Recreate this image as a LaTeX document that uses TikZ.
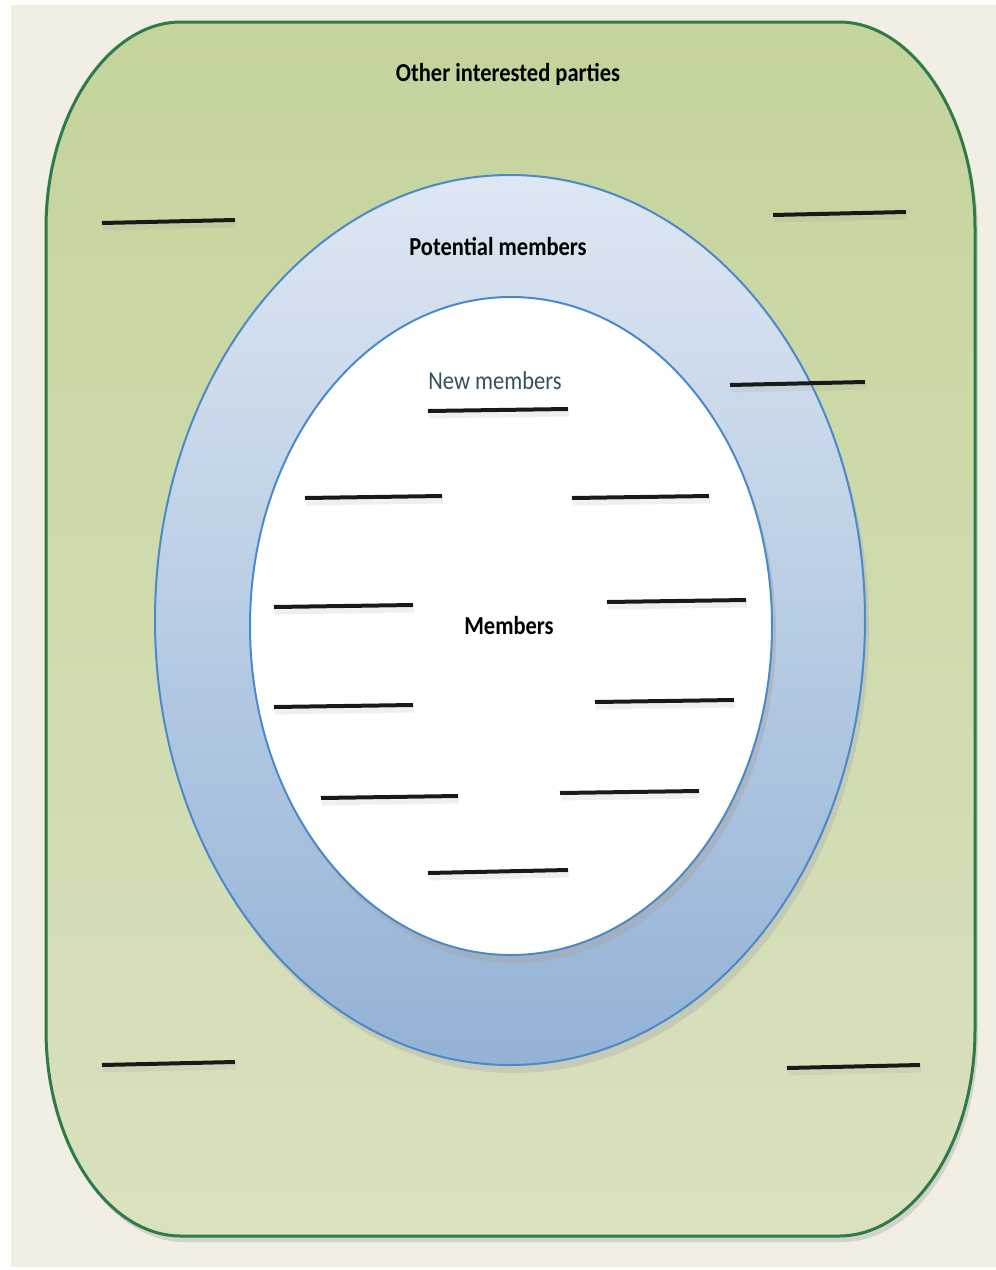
\documentclass[tikz,border=0pt]{standalone}
\usepackage{fontspec}
\setmainfont{Carlito}
\definecolor{beige}{HTML}{F1EEE3}
\definecolor{gtop}{HTML}{C4D49C}
\definecolor{gbot}{HTML}{DAE1BF}
\definecolor{gline}{HTML}{2E7B47}
\definecolor{btop}{HTML}{DEE7F2}
\definecolor{bbot}{HTML}{93B2D6}
\definecolor{bline}{HTML}{4A8ACB}
\definecolor{newc}{HTML}{34505F}
\newcommand{\tallT}[1]{\scalebox{1}[1.15]{#1}}
\tikzset{
  blank/.style={line width=4pt, black!90, line cap=butt},
  blankshadow/.style={line width=5pt, black!40, opacity=0.15, line cap=butt},
  lbl/.style={font=\bfseries\fontsize{22.5}{26}\selectfont, inner sep=0pt},
}
\begin{document}
\begin{tikzpicture}[x=1pt,y=-1pt]
\useasboundingbox (0,0) rectangle (996,1270);
\fill[white] (0,0) rectangle (996,1270);
\fill[beige] (11,5) rectangle (996,1267);
% outer rounded region
\def\outerpath{(181,22) -- (839,22)
  .. controls (912,22) and (975,115) .. (975,228)
  -- (975,1030)
  .. controls (975,1145) and (912,1236) .. (839,1236)
  -- (181,1236)
  .. controls (108,1236) and (46,1145) .. (46,1030)
  -- (46,228)
  .. controls (46,115) and (108,22) .. (181,22) -- cycle}
\fill[black!30, opacity=0.45] [xshift=3pt,yshift=-6pt] \outerpath;
\shade[top color=gtop, bottom color=gbot] \outerpath;
\draw[gline, line width=3pt] \outerpath;
% potential members ellipse
\fill[black!30, opacity=0.45] (514,628) ellipse [x radius=355, y radius=445];
\shade[top color=btop, bottom color=bbot, draw=bline, line width=2pt] (510,620) ellipse [x radius=355, y radius=445];
% members ellipse
\fill[black!35, opacity=0.45] (515,634) ellipse [x radius=261, y radius=329];
\filldraw[fill=white, draw=bline, line width=2pt] (511,626) ellipse [x radius=261, y radius=329];
% labels
\node[lbl] (oip) at (508,74) {\tallT{Other interested parties}};
\node[lbl] (pm) at (498,246) {\tallT{Potential members}};
\node[lbl, font=\fontsize{22.5}{26}\selectfont, text=newc] (nm) at (495,381) {\tallT{New members}};
\node[lbl] (mem) at (509,626) {\tallT{Members}};
% blanks
\foreach \a/\b/\c/\d in {102/223/235/220, 773/215/906/212, 730/385/865/382,
  428/411/568/409, 305/498/442/496, 572/498/709/496, 274/607/413/605,
  607/602/746/600, 274/707/413/705, 595/702/734/700, 321/798/458/796,
  560/793/699/791, 428/873/568/870, 102/1065/235/1062, 787/1068/920/1065}{
  \draw[blankshadow] (\a+1,\b+5) -- (\c+1,\d+5);
  \draw[blank] (\a,\b) -- (\c,\d);
}
\end{tikzpicture}
\end{document}
